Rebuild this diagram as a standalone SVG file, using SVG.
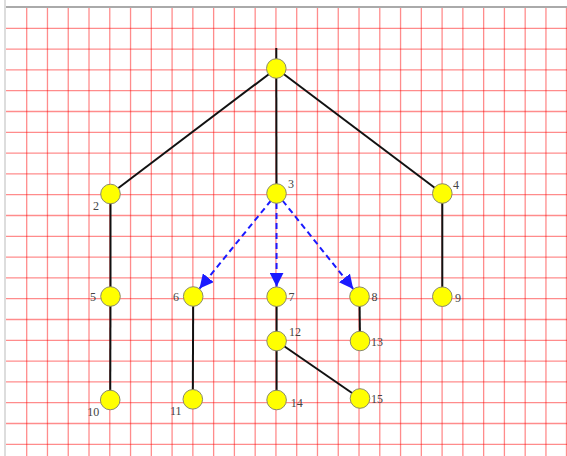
<svg xmlns="http://www.w3.org/2000/svg" width="567" height="456" viewBox="0 0 567 456">
<style>
.grid{stroke:#ff0000;stroke-opacity:0.45;stroke-width:1.3;fill:none}
.edge{stroke:#111;stroke-width:2;fill:none}
.dash{stroke:#1a1aff;stroke-width:2;stroke-dasharray:6,4;fill:none}
.node circle{fill:#ffff00;stroke:#8a8a6a;stroke-width:1}
.lbl{font-family:"Liberation Serif","Times New Roman",serif;font-size:12px;fill:#444444;text-anchor:middle}
</style>
<defs>
<marker id="arr" markerUnits="userSpaceOnUse" markerWidth="16" markerHeight="14" refX="14" refY="7" orient="auto">
<path d="M0,0 L14,7 L0,14 Z" fill="#1a1aff"/>
</marker>
</defs>
<rect width="567" height="456" fill="#ffffff"/>
<g id="grid" class="grid">
<path d="M26.7,8V456M47.47,8V456M68.24,8V456M89.01,8V456M109.78,8V456M130.55,8V456M151.32,8V456M172.09,8V456M192.86,8V456M213.63,8V456M234.4,8V456M255.17,8V456M275.94,8V456M296.71,8V456M317.48,8V456M338.25,8V456M359.02,8V456M379.79,8V456M400.56,8V456M421.33,8V456M442.1,8V456M462.87,8V456M483.64,8V456M504.41,8V456M525.18,8V456M545.95,8V456M566.5,8V456"/>
<path d="M6,28.3H567M6,49.1H567M6,69.9H567M6,90.7H567M6,111.5H567M6,132.3H567M6,153.1H567M6,173.9H567M6,194.7H567M6,215.5H567M6,236.3H567M6,257.1H567M6,277.9H567M6,298.7H567M6,319.5H567M6,340.3H567M6,361.1H567M6,381.9H567M6,402.7H567M6,423.5H567M6,444.3H567"/>
</g>
<line x1="6" y1="7" x2="567" y2="7" stroke="#aaaaaa" stroke-width="2"/>
<line x1="5" y1="0" x2="5" y2="456" stroke="#dddddd" stroke-width="2"/>
<g id="connectors">
<line class="edge" x1="276.3" y1="48" x2="276.3" y2="60"/>
<line class="edge" x1="276.3" y1="68.5" x2="110.5" y2="194"/>
<line class="edge" x1="276.3" y1="68.5" x2="276.5" y2="193.5"/>
<line class="edge" x1="276.3" y1="68.5" x2="442.3" y2="193.5"/>
<line class="edge" x1="110.5" y1="194" x2="110.5" y2="296.5"/>
<line class="edge" x1="110.5" y1="296.5" x2="110.2" y2="400"/>
<line class="edge" x1="193.2" y1="296.5" x2="192.8" y2="399.3"/>
<line class="edge" x1="276.6" y1="296.7" x2="276.6" y2="341"/>
<line class="edge" x1="276.6" y1="341" x2="276.6" y2="400"/>
<line class="edge" x1="276.6" y1="341" x2="360" y2="398.5"/>
<line class="edge" x1="359.5" y1="296.7" x2="360" y2="341"/>
<line class="edge" x1="442.3" y1="193.5" x2="442.3" y2="296.7"/>
<line class="dash" x1="271" y1="200.5" x2="199.5" y2="288.6" marker-end="url(#arr)"/>
<line class="dash" x1="276.5" y1="203" x2="276.6" y2="286.7" marker-end="url(#arr)"/>
<line class="dash" x1="282.5" y1="200.5" x2="353.2" y2="288.9" marker-end="url(#arr)"/>
</g>
<g id="n1" class="node"><circle cx="276.3" cy="68.5" r="9.8"/></g>
<g id="n2" class="node"><circle cx="110.5" cy="194" r="9.8"/><text class="lbl" x="96" y="210">2</text></g>
<g id="n3" class="node"><circle cx="276.5" cy="193.5" r="9.8"/><text class="lbl" x="291" y="188">3</text></g>
<g id="n4" class="node"><circle cx="442.3" cy="193.5" r="9.8"/><text class="lbl" x="456" y="189">4</text></g>
<g id="n5" class="node"><circle cx="110.5" cy="296.5" r="9.8"/><text class="lbl" x="93" y="301">5</text></g>
<g id="n6" class="node"><circle cx="193.2" cy="296.5" r="9.8"/><text class="lbl" x="176" y="301">6</text></g>
<g id="n7" class="node"><circle cx="276.6" cy="296.7" r="9.8"/><text class="lbl" x="291.5" y="301">7</text></g>
<g id="n8" class="node"><circle cx="359.5" cy="296.7" r="9.8"/><text class="lbl" x="374.5" y="301">8</text></g>
<g id="n9" class="node"><circle cx="442.3" cy="296.7" r="9.8"/><text class="lbl" x="458" y="302">9</text></g>
<g id="n10" class="node"><circle cx="110.2" cy="400" r="9.8"/><text class="lbl" x="93.3" y="415.5">10</text></g>
<g id="n11" class="node"><circle cx="192.8" cy="399.3" r="9.8"/><text class="lbl" x="175.7" y="414.5">11</text></g>
<g id="n12" class="node"><circle cx="276.6" cy="341" r="9.8"/><text class="lbl" x="295" y="335.5">12</text></g>
<g id="n13" class="node"><circle cx="360" cy="341" r="9.8"/><text class="lbl" x="377" y="345.5">13</text></g>
<g id="n14" class="node"><circle cx="276.6" cy="400" r="9.8"/><text class="lbl" x="296.7" y="407">14</text></g>
<g id="n15" class="node"><circle cx="360" cy="398.5" r="9.8"/><text class="lbl" x="377" y="403">15</text></g>
</svg>
